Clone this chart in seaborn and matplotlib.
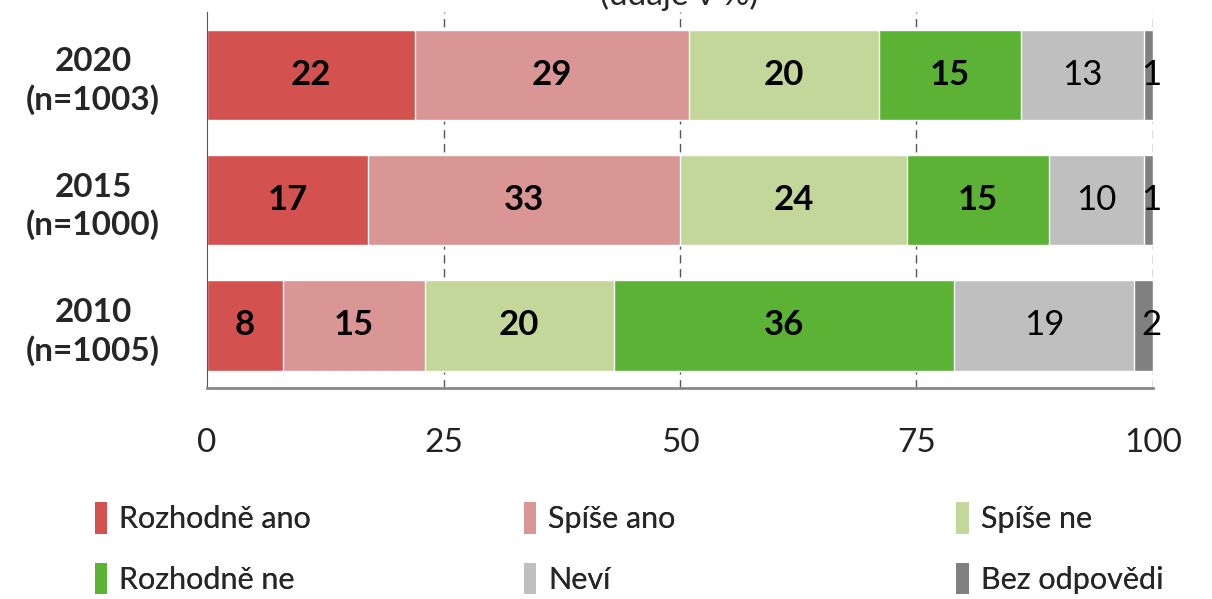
import numpy as np
import pandas as pd
import matplotlib
matplotlib.use("Agg")
import matplotlib.pyplot as plt
import seaborn as sns
from matplotlib.patches import Patch

years = ["2020\n(n=1003)", "2015\n(n=1000)", "2010\n(n=1005)"]
categories = ["Rozhodně ano", "Spíše ano", "Spíše ne", "Rozhodně ne", "Neví", "Bez odpovědi"]
rozhodne_ano = [22, 17, 8]
spise_ano = [29, 33, 15]
spise_ne = [20, 24, 20]
rozhodne_ne = [15, 15, 36]
nevi = [13, 10, 19]
bez_odpovedi = [1, 1, 2]
colors = ["#D35250", "#DA9694", "#C4D79B", "#5BB234", "#BFBFBF", "#808080"]

sns.set_style("white")
plt.rcParams['font.family'] = ['Lato', 'DejaVu Sans']

values = np.array([rozhodne_ano, spise_ano, spise_ne, rozhodne_ne, nevi, bez_odpovedi])
cum = values.cumsum(axis=0)

fig = plt.figure(figsize=(12.12, 5.99), dpi=100)
ax = fig.add_axes([0.1708, 0.352, 0.7805, 0.628])

# dashed gridlines behind bars
for gx in [25, 50, 75, 100]:
    ax.axvline(gx, color="#555555", lw=1, ls=(0, (6, 4)), zorder=0)

# stacked: draw largest cumulative first
for i in range(len(categories) - 1, -1, -1):
    df = pd.DataFrame({"year": years, "val": cum[i]})
    sns.barplot(data=df, x="val", y="year", orient="h", color=colors[i],
                width=0.72, ax=ax, saturation=1, zorder=2)

for i in range(len(categories)):
    for j in range(len(years)):
        xc = cum[i][j] - values[i][j] / 2
        if i == len(categories) - 1:
            xc = cum[i][j] - 0.2
        ax.text(xc, j, str(values[i][j]), ha="center", va="center",
                fontsize=25, fontweight="bold" if i < 4 else "normal",
                color="black", zorder=5)

ax.set_xlim(0, 100)
ax.set_ylim(2.5, -0.5)
ax.set_xticks([0, 25, 50, 75, 100])
ax.set_xlabel("")
ax.set_ylabel("")
ax.tick_params(axis="x", length=10, direction="inout", color="#555555",
               labelsize=24, pad=24, labelcolor="#222222")
ax.set_yticks([0, 1, 2])
ax.set_yticklabels(years, fontsize=24, fontweight="bold", ha="center",
                   linespacing=1.3)
ax.set_yticks([-0.5, 0.5, 1.5, 2.5], minor=True)
ax.tick_params(axis="y", which="major", length=0, pad=82)
ax.tick_params(axis="y", which="minor", length=8, color="#555555")
for s in ["top", "right"]:
    ax.spines[s].set_visible(False)
ax.spines["left"].set_color("#555555")
ax.spines["bottom"].set_color("#888888")
ax.spines["bottom"].set_linewidth(2)

fig.text(0.56, 1.008, "(údaje v %)", ha="center", va="center", fontsize=24)

# legend laid out as three columns of two rows
col_x = [0.068, 0.422, 0.779]
for c in range(3):
    idx = [c, c + 3]
    handles = [Patch(facecolor=colors[k], edgecolor="none") for k in idx]
    labels = [categories[k] for k in idx]
    leg = fig.legend(handles, labels, loc="upper left",
                     bbox_to_anchor=(col_x[c], 0.182), frameon=False,
                     fontsize=22, handlelength=0.4, handleheight=1.2,
                     handletextpad=0.4, labelspacing=0.95, borderaxespad=0)
    fig.add_artist(leg)

fig.savefig("out.png", dpi=100)
